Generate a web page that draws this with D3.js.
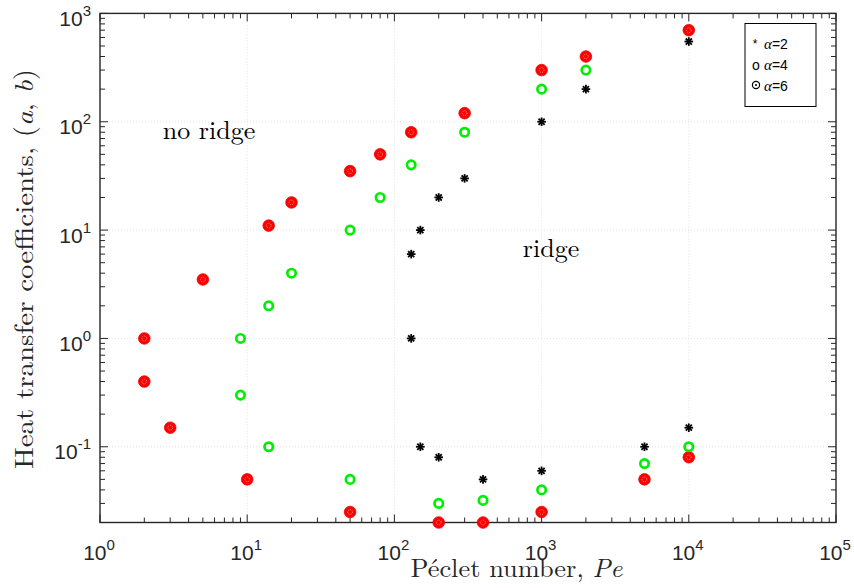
<!DOCTYPE html>
<html><head><meta charset="utf-8">
<script src="https://cdn.jsdelivr.net/npm/d3@7"></script>
<style>body{margin:0;background:#fff;} svg{display:block;}</style>
</head><body>
<svg id="c" width="854" height="588"></svg>
<script>
// alpha = 2 (black asterisks)
const peA2 = [130, 130, 150, 150, 200, 200, 300, 400, 1000, 1000, 2000, 5000, 10000, 10000];
const valA2 = [6, 1, 10, 0.1, 20, 0.08, 30, 0.05, 100, 0.06, 200, 0.1, 550, 0.15];
// alpha = 4 (green open circles)
const peA4 = [9, 9, 14, 14, 20, 50, 50, 80, 130, 200, 300, 400, 1000, 1000, 2000, 5000, 10000];
const valA4 = [1, 0.3, 2, 0.1, 4, 10, 0.05, 20, 40, 0.03, 80, 0.032, 200, 0.04, 300, 0.07, 0.1];
// alpha = 6 (red filled circles)
const peA6 = [2, 2, 3, 5, 10, 14, 20, 50, 50, 80, 130, 200, 300, 400, 1000, 1000, 2000, 5000, 10000, 10000];
const valA6 = [1, 0.4, 0.15, 3.5, 0.05, 11, 18, 35, 0.025, 50, 80, 0.02, 120, 0.02, 300, 0.025, 400, 0.05, 700, 0.08];

const xTicks = [1, 10, 100, 1000, 10000, 100000];
const yTicks = [0.1, 1, 10, 100, 1000];
const xExp = [0, 1, 2, 3, 4, 5];
const yExp = [-1, 0, 1, 2, 3];
const legendLabels = ["=2", "=4", "=6"];

const svg = d3.select("#c");
const L = 100, R = 836, T = 13.4, B = 522.5;
const x = d3.scaleLog().domain([1, 1e5]).range([L, R]);
const y = d3.scaleLog().domain([0.02, 1000]).range([B, T]);
const axisCol = "#262626";

// grid
const g = svg.append("g");
[10, 100, 1000, 10000].forEach(v => g.append("line").attr("x1", x(v)).attr("x2", x(v)).attr("y1", T).attr("y2", B)
  .attr("stroke", "#d9d9d9").attr("stroke-width", 0.8).attr("stroke-dasharray", "1,2"));
[0.1, 1, 10, 100].forEach(v => g.append("line").attr("y1", y(v)).attr("y2", y(v)).attr("x1", L).attr("x2", R)
  .attr("stroke", "#d9d9d9").attr("stroke-width", 0.8).attr("stroke-dasharray", "1,2"));

// minor ticks
const xMinor = [], yMinor = [];
for (let e = 0; e < 5; e++) for (let k = 2; k <= 9; k++) xMinor.push(k * Math.pow(10, e));
for (let e = -2; e < 3; e++) for (let k = 2; k <= 9; k++) { const v = k * Math.pow(10, e); if (v >= 0.02 && v <= 1000) yMinor.push(v); }

const tk = svg.append("g").attr("stroke", axisCol).attr("stroke-width", 1);
xMinor.forEach(v => {
  tk.append("line").attr("x1", x(v)).attr("x2", x(v)).attr("y1", B).attr("y2", B - 5);
  tk.append("line").attr("x1", x(v)).attr("x2", x(v)).attr("y1", T).attr("y2", T + 5);
});
xTicks.forEach(v => {
  tk.append("line").attr("x1", x(v)).attr("x2", x(v)).attr("y1", B).attr("y2", B - 8);
  tk.append("line").attr("x1", x(v)).attr("x2", x(v)).attr("y1", T).attr("y2", T + 8);
});
yMinor.forEach(v => {
  tk.append("line").attr("y1", y(v)).attr("y2", y(v)).attr("x1", L).attr("x2", L + 5);
  tk.append("line").attr("y1", y(v)).attr("y2", y(v)).attr("x1", R).attr("x2", R - 5);
});
yTicks.forEach(v => {
  tk.append("line").attr("y1", y(v)).attr("y2", y(v)).attr("x1", L).attr("x2", L + 8);
  tk.append("line").attr("y1", y(v)).attr("y2", y(v)).attr("x1", R).attr("x2", R - 8);
});
svg.append("rect").attr("x", L).attr("y", T).attr("width", R - L).attr("height", B - T)
  .attr("fill", "none").attr("stroke", axisCol).attr("stroke-width", 1.4);

// tick labels
const font = "'Liberation Sans', Arial, Helvetica, sans-serif";
xTicks.forEach((v, i) => {
  const t = svg.append("text").attr("x", x(v) - 1).attr("y", 560).attr("text-anchor", "middle")
    .attr("font-family", font).attr("font-size", 21).attr("fill", axisCol);
  t.append("tspan").text("10");
  t.append("tspan").attr("dy", -10).attr("font-size", 15).text(xExp[i]);
});
yTicks.forEach((v, i) => {
  const t = svg.append("text").attr("x", 91).attr("y", y(v) + 12.5).attr("text-anchor", "end")
    .attr("font-family", font).attr("font-size", 21).attr("fill", axisCol);
  t.append("tspan").text("10");
  t.append("tspan").attr("dy", -10).attr("font-size", 15).text(yExp[i]);
});

// axis labels
const serif = "'Latin Modern Roman','CMU Serif','Liberation Serif','DejaVu Serif',serif";
const xl = svg.append("text").attr("x", 516.5).attr("y", 577).attr("text-anchor", "middle")
  .attr("font-family", serif).attr("font-size", 26).attr("fill", axisCol)
  .attr("textLength", 212).attr("lengthAdjust", "spacingAndGlyphs");
xl.append("tspan").text("Péclet number, ");
xl.append("tspan").attr("font-style", "italic").text("Pe");
const yl = svg.append("text").attr("transform", "translate(33,269) rotate(-90)").attr("text-anchor", "middle")
  .attr("font-family", serif).attr("font-size", 26).attr("fill", axisCol)
  .attr("textLength", 400).attr("lengthAdjust", "spacingAndGlyphs");
yl.append("tspan").text("Heat transfer coefficients, (");
yl.append("tspan").attr("font-style", "italic").text("a");
yl.append("tspan").text(", ");
yl.append("tspan").attr("font-style", "italic").text("b");
yl.append("tspan").text(")");

// annotations
svg.append("text").attr("x", 209).attr("y", 139).attr("text-anchor", "middle").attr("font-family", serif)
  .attr("font-size", 26).attr("fill", "#000").text("no ridge");
svg.append("text").attr("x", 551).attr("y", 257).attr("text-anchor", "middle").attr("font-family", serif)
  .attr("font-size", 26).attr("fill", "#000").text("ridge");

// markers
function asterisk(sel, cx, cy, s) {
  const gg = sel.append("g").attr("transform", `translate(${cx},${cy})`).attr("stroke", "#000").attr("stroke-width", 1.8);
  for (let a = 0; a < 4; a++) {
    const ang = a * Math.PI / 4;
    gg.append("line").attr("x1", -s * Math.cos(ang)).attr("y1", -s * Math.sin(ang))
      .attr("x2", s * Math.cos(ang)).attr("y2", s * Math.sin(ang));
  }
}
const mk = svg.append("g");
peA6.forEach((p, i) => {
  mk.append("circle").attr("cx", x(p)).attr("cy", y(valA6[i])).attr("r", 5.8).attr("fill", "#ff0000").attr("stroke", "#f00000").attr("stroke-width", 0.8);
  mk.append("circle").attr("cx", x(p)).attr("cy", y(valA6[i])).attr("r", 2.4).attr("fill", "none").attr("stroke", "#ffb0b0").attr("stroke-width", 0.8).attr("stroke-dasharray", "1,1");
});
peA4.forEach((p, i) => {
  mk.append("circle").attr("cx", x(p)).attr("cy", y(valA4[i])).attr("r", 4.2).attr("fill", "none").attr("stroke", "#00ee00").attr("stroke-width", 2.7);
});
peA2.forEach((p, i) => asterisk(mk, x(p), y(valA2[i]), 4.3));

// legend
const lg = svg.append("g");
lg.append("rect").attr("x", 745).attr("y", 23.5).attr("width", 71).attr("height", 83).attr("fill", "#fff")
  .attr("stroke", "#000").attr("stroke-width", 1);
const ly = [44, 65, 86];
legendLabels.forEach((lab, i) => {
  const t = lg.append("text").attr("x", 764).attr("y", ly[i] + 5).attr("font-family", font).attr("font-size", 14).attr("fill", "#000");
  t.append("tspan").attr("font-family", serif).attr("font-style", "italic").attr("font-size", 15).text("α");
  t.append("tspan").text(lab);
});
lg.append("text").attr("x", 755).attr("y", ly[0] + 4).attr("text-anchor", "middle").attr("font-family", font).attr("font-size", 12).text("*");
lg.append("text").attr("x", 756).attr("y", ly[1] + 5).attr("text-anchor", "middle").attr("font-family", font).attr("font-size", 14).text("o");
lg.append("circle").attr("cx", 756).attr("cy", ly[2] - 1).attr("r", 3.6).attr("fill", "none").attr("stroke", "#000").attr("stroke-width", 1.2);
lg.append("circle").attr("cx", 756).attr("cy", ly[2] - 1).attr("r", 1).attr("fill", "#000");
</script>
</body></html>
